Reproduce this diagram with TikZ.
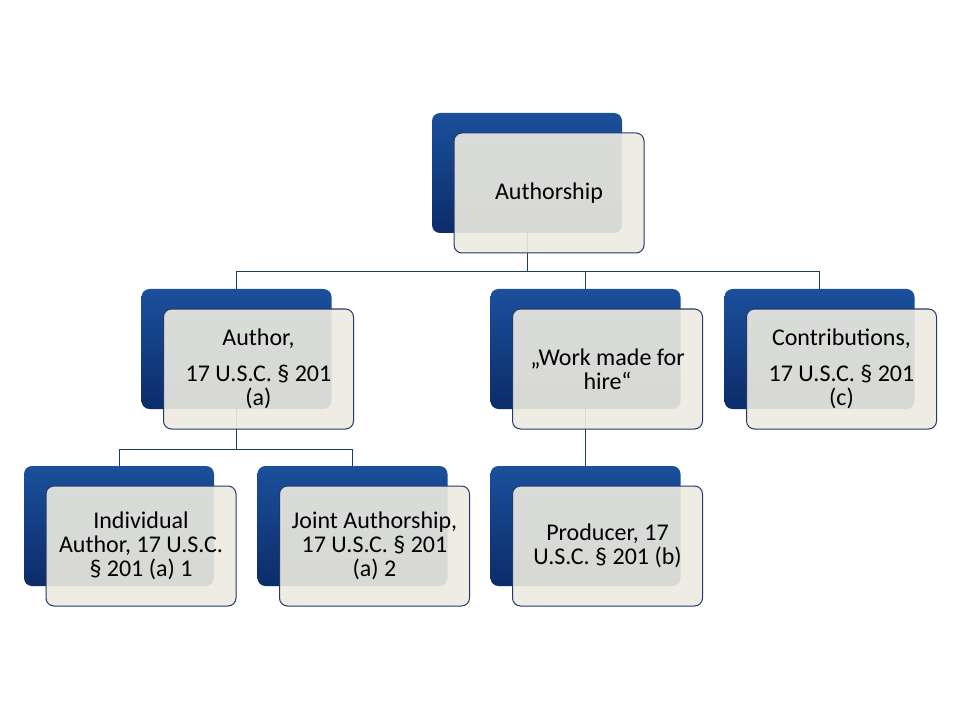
\documentclass[tikz,border=0pt]{standalone}
\usepackage{fontspec}
\setmainfont{Carlito}
\usepackage{tikz}
\usetikzlibrary{calc}
\definecolor{navytop}{RGB}{27,80,156}
\definecolor{navybot}{RGB}{12,44,106}
\definecolor{paper}{RGB}{238,236,225}
\definecolor{rim}{RGB}{33,58,104}
\tikzset{
  backbox/.style={rounded corners=6pt, minimum width=142.5pt,
    minimum height=90pt, top color=navytop, bottom color=navybot, draw=none},
  textbox/.style={draw=rim, line width=0.75pt, fill=paper, fill opacity=0.9,
    text opacity=1, rounded corners=6pt, minimum width=142.5pt,
    minimum height=90pt, inner sep=2pt, align=center,
    font=\fontsize{18}{18}\selectfont},
  link/.style={draw=rim, line width=0.75pt},
}

\begin{document}
\begin{tikzpicture}[x=0.75pt, y=-0.75pt]
  \fill[white] (0,0) rectangle (960,720);
  \useasboundingbox (0,0) rectangle (960,720);

  % dark back plates
  \node[backbox] (root)     at (527,173) {};
  \node[backbox] (author)   at (236.5,349) {};
  \node[backbox] (hire)     at (585.5,349) {};
  \node[backbox] (contrib)  at (819.5,349) {};
  \node[backbox] (indiv)    at (119,526) {};
  \node[backbox] (joint)    at (352.5,526) {};
  \node[backbox] (producer) at (585.5,526) {};

  % tree lines
  \draw[link] (root.south) -- ++(0,38) coordinate (fork1);
  \draw[link] (fork1) -| (author.north);
  \draw[link] (fork1) -| (hire.north);
  \draw[link] (fork1) -| (contrib.north);
  \draw[link] (author.south) -- ++(0,40) coordinate (fork2);
  \draw[link] (fork2) -| (indiv.north);
  \draw[link] (fork2) -| (joint.north);
  \draw[link] (hire.south) -- (producer.north);

  % text cards
  \node[textbox] (rootT) at ($(root)+(22,20)$) {Authorship};
  \node[textbox] (authorT) at ($(author)+(22,20)$)
    {Author,\\[9pt]17 U.S.C. § 201\\(a)};
  \node[textbox] (hireT) at ($(hire)+(22,20)$)
    {„Work made for\\hire“};
  \node[textbox] (contribT) at ($(contrib)+(22,20)$)
    {Contributions,\\[9pt]17 U.S.C. § 201\\(c)};
  \node[textbox] (indivT) at ($(indiv)+(22,20)$)
    {Individual\\Author, 17 U.S.C.\\§ 201 (a) 1};
  \node[textbox] (jointT) at ($(joint)+(22,20)$)
    {Joint Authorship,\\17 U.S.C. § 201\\(a) 2};
  \node[textbox] (producerT) at ($(producer)+(22,20)$)
    {Producer, 17\\U.S.C. § 201 (b)};
\end{tikzpicture}
\end{document}
